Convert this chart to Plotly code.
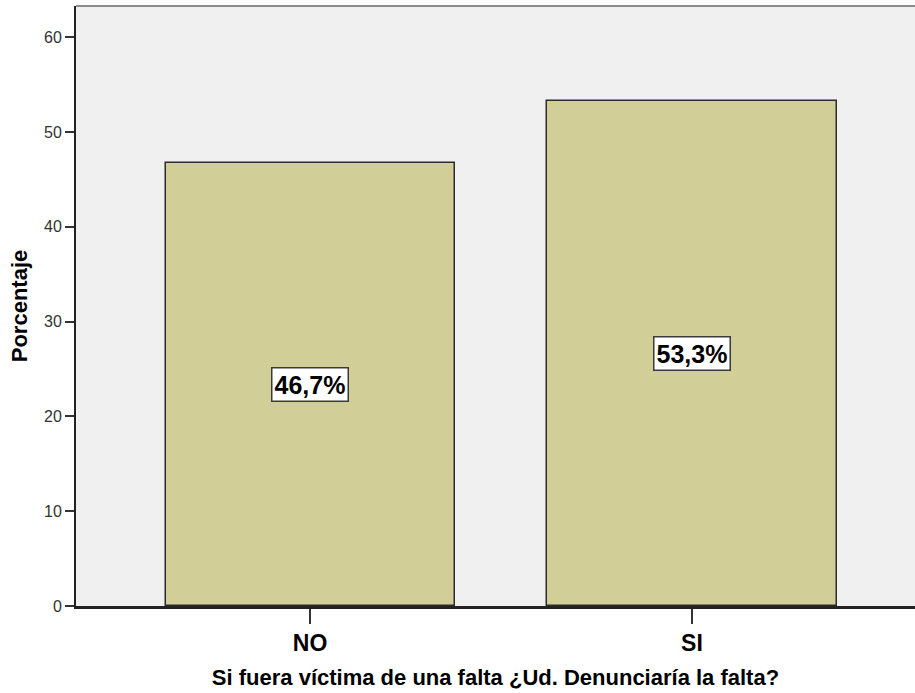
import plotly.graph_objects as go

categories = ['NO', 'SI']
percentages = [46.7, 53.3]
labels = ['46,7%', '53,3%']
y_ticks = [0, 10, 20, 30, 40, 50, 60]

bar_color = '#d2ce98'
font_family = 'Arial, Liberation Sans, sans-serif'

fig = go.Figure()

fig.add_trace(go.Bar(
    x=[0, 1],
    y=percentages,
    width=0.757,
    marker=dict(color=bar_color, line=dict(color='#2b2b2b', width=1.5)),
    hoverinfo='skip',
))

# value labels in boxes, at half bar height
for i, (v, t) in enumerate(zip(percentages, labels)):
    fig.add_annotation(
        x=i, y=v / 2, text='<b>' + t + '</b>', showarrow=False,
        font=dict(family=font_family, size=25, color='black'),
        bgcolor='white', bordercolor='#3a3a3a', borderwidth=1.5, borderpad=2,
    )

# grey top border of the frame
fig.add_shape(type='line', xref='paper', yref='paper', x0=0, x1=1, y0=1, y1=1,
              line=dict(color='#8c8c8c', width=2))

fig.update_layout(
    width=915, height=693,
    margin=dict(l=76, r=0, t=6, b=87),
    paper_bgcolor='white',
    plot_bgcolor='#f0f0f0',
    showlegend=False,
    font=dict(family=font_family),
    bargap=0,
)

fig.update_xaxes(
    range=[-0.613, 1.584],
    tickmode='array', tickvals=[0, 1],
    ticktext=['<b>' + c + '</b>' for c in categories],
    tickfont=dict(size=23, color='black'),
    ticks='outside', ticklen=15, tickcolor='#333', tickwidth=1.5,
    showline=True, linecolor='#222', linewidth=2.5,
    showgrid=False, zeroline=False,
    title=dict(text='<b>Si fuera víctima de una falta ¿Ud. Denunciaría la falta?</b>',
               font=dict(size=22, color='black'), standoff=15),
)

fig.update_yaxes(
    range=[0, 63.3],
    tickmode='array', tickvals=y_ticks,
    tickfont=dict(size=16, color='#333'),
    ticks='outside', ticklen=9, tickcolor='#333', tickwidth=1.5,
    showline=True, linecolor='#222', linewidth=2,
    showgrid=False, zeroline=False,
    title=dict(text='<b>Porcentaje</b>', font=dict(size=22, color='black'), standoff=10),
)

fig.write_html('out.html', config={'displayModeBar': False},
               post_script="document.body.style.margin='0px';")
